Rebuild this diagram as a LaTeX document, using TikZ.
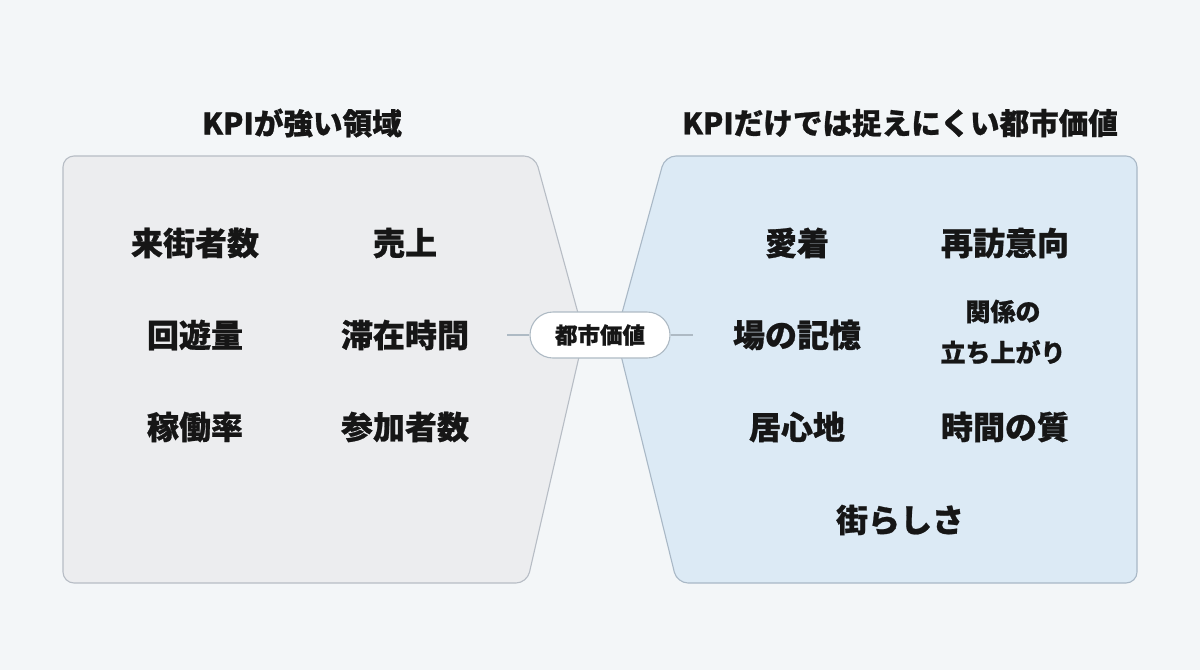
\documentclass[tikz,border=0pt]{standalone}
\usepackage{fontspec}
\setmainfont{Noto Sans CJK JP}[BoldFeatures={FakeBold=0.8}]
\definecolor{bg}{HTML}{F3F6F8}
\definecolor{leftfill}{HTML}{ECEDEF}
\definecolor{leftdraw}{HTML}{B7BDC5}
\definecolor{rightfill}{HTML}{DCEAF5}
\definecolor{rightdraw}{HTML}{A9B8C6}
\definecolor{ink}{HTML}{161616}
\definecolor{linkc}{HTML}{AEBAC4}
\tikzset{
  item/.style={text=ink, font=\fontsize{32}{38}\selectfont\bfseries, inner sep=0pt, align=center},
  itemsmall/.style={text=ink, font=\fontsize{25}{41}\selectfont\bfseries, inner sep=0pt, align=center},
  title/.style={text=ink, inner sep=0pt, font=\fontsize{29.6}{34}\selectfont\bfseries},
  panel/.style={line width=1.1pt, rounded corners=11pt},
  pill/.style={draw=linkc, fill=white, line width=1.1pt, rounded corners=23pt, minimum width=140pt, minimum height=46pt, inner sep=0pt, text=ink, font=\fontsize{22.5}{26}\selectfont\bfseries},
  link/.style={draw=linkc, line width=1.1pt}
}
\begin{document}
\begin{tikzpicture}[x=1pt,y=-1pt]
\path[fill=bg,use as bounding box] (0,0) rectangle (1200,670);
% panels
\path[panel, fill=leftfill, draw=leftdraw] (63,156) -- (535,156) -- (584,335) -- (527,583) -- (63,583) -- cycle;
\path[panel, fill=rightfill, draw=rightdraw] (665,156) -- (1137,156) -- (1137,583) -- (677,583) -- (616,335) -- cycle;
% titles
\node[title] (tl) at (302,123) {KPIが強い領域};
\node[title] (tr) at (900,123) {KPIだけでは捉えにくい都市価値};
% left items
\node[item] (l1) at (195,243) {来街者数};
\node[item] (l2) at (405,243) {売上};
\node[item] (l3) at (195,335) {回遊量};
\node[item] (l4) at (405,335) {滞在時間};
\node[item] (l5) at (195,427) {稼働率};
\node[item] (l6) at (405,427) {参加者数};
% right items
\node[item] (r1) at (797,243) {愛着};
\node[item] (r2) at (1005,243) {再訪意向};
\node[item] (r3) at (797,335) {場の記憶};
\node[itemsmall] (r4) at (1003,332) {関係の\\立ち上がり};
\node[item] (r5) at (797,427) {居心地};
\node[item] (r6) at (1005,427) {時間の質};
\node[item] (r7) at (900,520) {街らしさ};
% center
\coordinate (cl) at (507,335);
\coordinate (cr) at (693,335);
\node[pill] (c) at (600,335) {都市価値};
\draw[link] (cl) -- (c.west);
\draw[link] (c.east) -- (cr);
\end{tikzpicture}
\end{document}
